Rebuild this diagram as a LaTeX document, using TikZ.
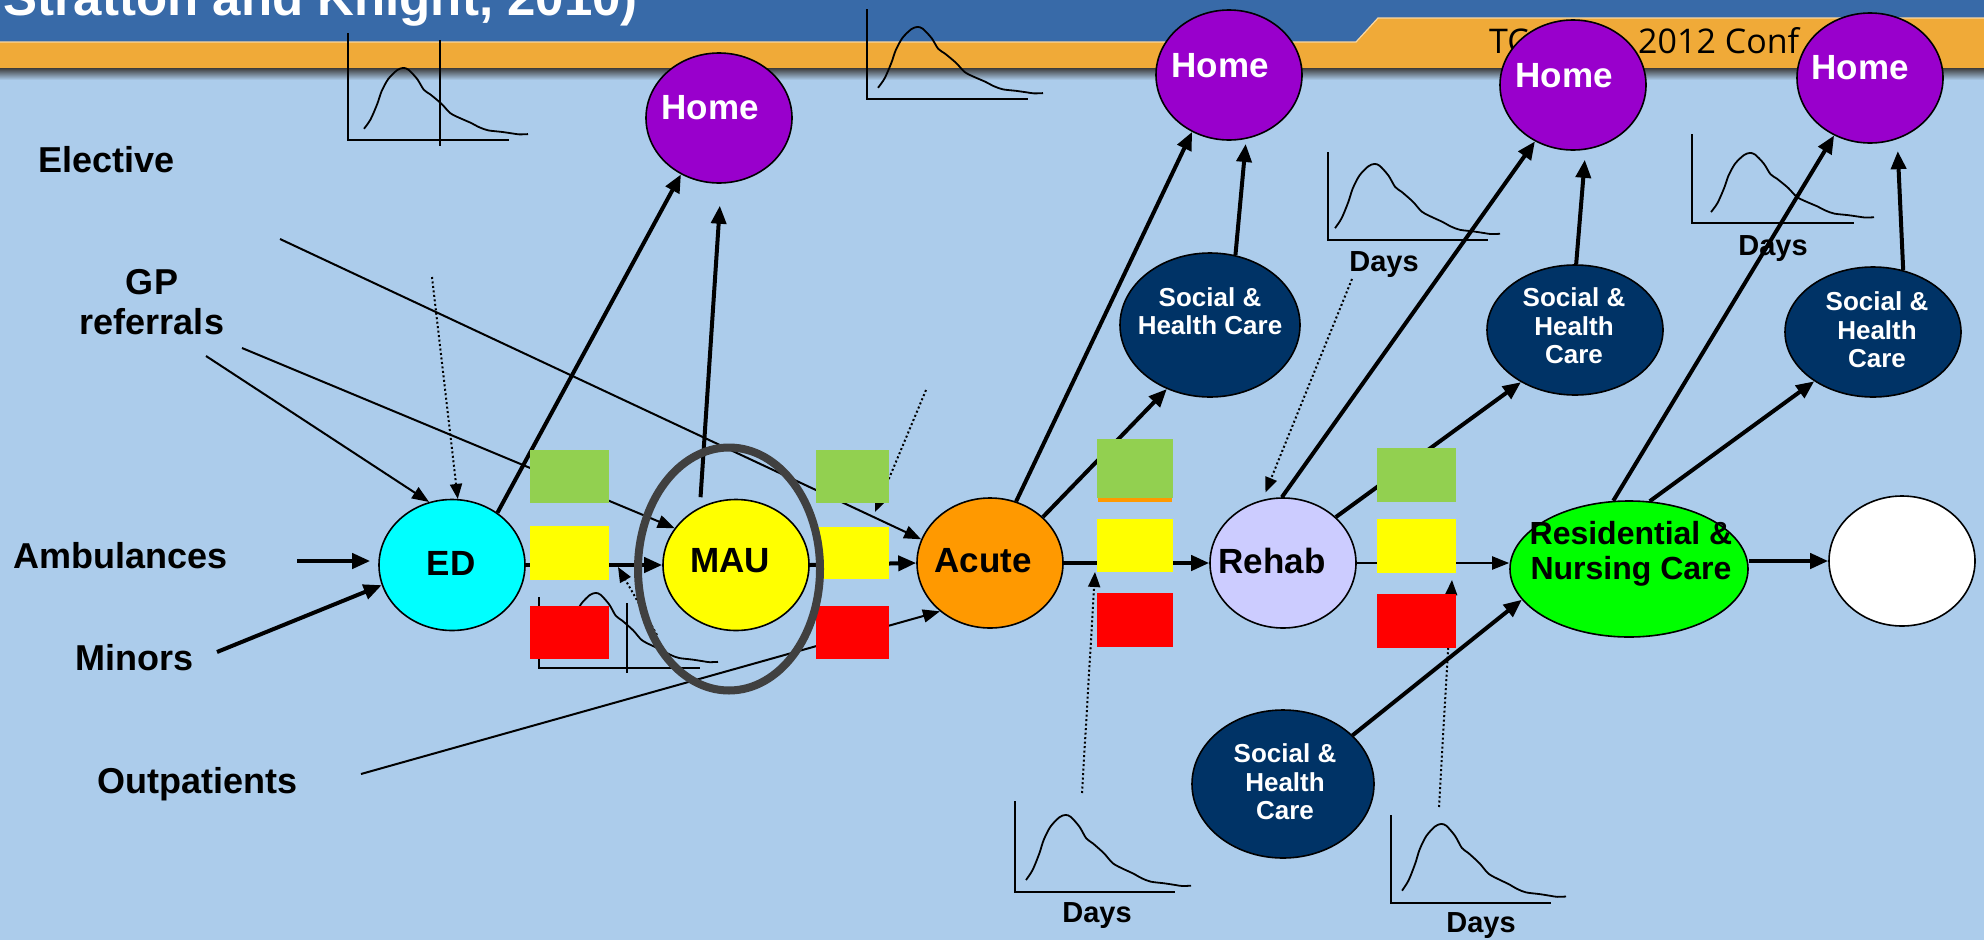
\documentclass[tikz,border=0pt]{standalone}
\usepackage{fontspec}
\setmainfont{Liberation Sans}
\newfontfamily\confont{Open Sans}
\usetikzlibrary{arrows.meta,shapes.geometric,calc}

\definecolor{bgblue}{RGB}{172,204,235}
\definecolor{bandblue}{RGB}{56,106,168}
\definecolor{bandorange}{RGB}{240,170,56}
\definecolor{bandedge}{RGB}{250,215,160}
\definecolor{bandshadow}{RGB}{60,60,60}
\definecolor{homepurple}{RGB}{153,0,204}
\definecolor{navy}{RGB}{0,51,102}
\definecolor{edcyan}{RGB}{0,255,255}
\definecolor{acuteorange}{RGB}{255,153,0}
\definecolor{rehablilac}{RGB}{204,204,255}
\definecolor{residgreen}{RGB}{0,255,0}
\definecolor{sqgreen}{RGB}{146,208,80}
\definecolor{sqyellow}{RGB}{255,255,0}
\definecolor{sqred}{RGB}{255,0,0}
\definecolor{ringgray}{RGB}{64,64,64}

% length-of-stay sketch: axis x, axis top, axis y, axis right end,
% curve start x, curve end x, curve peak y
\newcommand{\losplot}[7]{%
  \draw[axisline] (#1,#2) -- (#1,#3) -- (#4,#3);
  \begin{scope}[shift={(#5,#3)}, xscale=#6-#5, yscale=#7-#3]
    \draw[curveline] plot[smooth, tension=0.5] coordinates {
      (0,0.156) (0.040,0.286) (0.081,0.502) (0.107,0.675) (0.148,0.848)
      (0.202,0.970) (0.238,1.0) (0.270,0.978) (0.324,0.848) (0.365,0.697)
      (0.405,0.632) (0.473,0.502) (0.527,0.372) (0.595,0.294) (0.648,0.242)
      (0.703,0.177) (0.757,0.134) (0.838,0.113) (0.905,0.091) (0.946,0.078)
      (1.0,0.082)};
  \end{scope}}

\begin{document}
\begin{tikzpicture}[x=1pt, y=-1pt,
  stage/.style={ellipse, draw=black, line width=1.6pt, inner sep=0pt,
    minimum width=146pt, minimum height=131pt},
  home/.style={stage, fill=homepurple, minimum height=130pt},
  care/.style={stage, fill=navy, minimum width=176pt, minimum height=130pt},
  hometxt/.style={inner sep=0pt, text=white, font=\bfseries\fontsize{35}{38}\selectfont},
  stagetxt/.style={inner sep=0pt, text=black, font=\bfseries\fontsize{35}{38}\selectfont},
  caretxt/.style={inner sep=0pt, text=white, align=center,
    font=\bfseries\fontsize{26}{28.5}\selectfont},
  src/.style={inner sep=0pt, anchor=base west, font=\bfseries\fontsize{36}{40}\selectfont},
  dayslabel/.style={inner sep=0pt, anchor=base, font=\bfseries\fontsize{29}{32}\selectfont},
  sq/.style={inner sep=0pt, draw=none, minimum width=78pt, minimum height=54pt},
  heavy/.style={line width=4pt, -{Triangle[length=18pt,width=15pt]}},
  light/.style={line width=2pt, -{Triangle[length=17pt,width=13pt]}},
  dotty/.style={line width=2pt, dash pattern=on 2pt off 2.5pt,
    -{Triangle[length=15pt,width=12pt]}},
  axisline/.style={line width=2.4pt},
  curveline/.style={line width=1.8pt, line join=round},
]
\useasboundingbox (0,0) rectangle (1984,940);
\fill[bgblue] (0,0) rectangle (1984,940);

% title band
\fill[bandblue] (0,0) rectangle (1984,44);
\fill[bandorange] (0,42) -- (1356,42) -- (1378,18) -- (1984,18) -- (1984,68) -- (0,68) -- cycle;
\draw[bandedge, line width=1.2pt] (0,42) -- (1356,42) -- (1378,18) -- (1984,18);
\shade[top color=bandshadow, bottom color=bgblue] (0,68) rectangle (1984,80);

\node[anchor=base east, inner sep=0pt, text=white,
  font=\bfseries\fontsize{51}{56}\selectfont] (title) at (638,15) {Stratton and Knight, 2010)};
\node[anchor=base west, inner sep=0pt, font=\confont\fontsize{34}{38}\selectfont]
  (conf-a) at (1489,53) {TC};
\node[anchor=base west, inner sep=0pt, font=\confont\fontsize{34}{38}\selectfont]
  (conf-b) at (1638,53) {2012 Conf};

% length-of-stay sketches
\losplot{348}{33}{140}{509}{364}{528}{68}
\draw[line width=2pt] (440,40) -- (440,146);
\losplot{867}{9}{99}{1028}{878}{1043}{27}
\losplot{1328}{152}{240}{1488}{1335}{1500}{164}
\losplot{1692}{134}{223}{1854}{1711}{1874}{153}
\losplot{1015}{801}{892}{1175}{1026}{1191}{815}
\losplot{1391}{815}{903}{1551}{1402}{1566}{824}
\losplot{539}{597}{668}{700}{557}{718}{593}
\draw[line width=2pt] (627,603) -- (627,673);

\node[dayslabel] (days1) at (1384,271) {Days};
\node[dayslabel] (days2) at (1773,255) {Days};
\node[dayslabel] (days3) at (1097,922) {Days};
\node[dayslabel] (days4) at (1481,932) {Days};

% sources
\node[src] (elective) at (38,172) {Elective};
\node[inner sep=0pt, align=center, font=\bfseries\fontsize{36}{40}\selectfont]
  (gp) at (152,302) {GP\\referrals};
\node[src] (ambulances) at (13,568) {Ambulances};
\node[src] (minors) at (75,670) {Minors};
\node[src] (outpatients) at (97,793) {Outpatients};

% stages of the pathway
\node[stage, fill=edcyan] (ed) at (452,565) {};
\node[stage, fill=sqyellow] (mau) at (736,565) {};
\node[stage, fill=acuteorange, minimum height=130pt] (acute) at (990,563) {};
\node[stage, fill=rehablilac, minimum height=130pt] (rehab) at (1283,563) {};
\node[stage, fill=residgreen, minimum width=238pt, minimum height=136pt] (resid) at (1629,569) {};
\node[stage, fill=white, minimum height=130pt] (sink) at (1902,561) {};
\node[home] (home1) at (719,118) {};
\node[home] (home2) at (1229,75) {};
\node[home] (home3) at (1573,85) {};
\node[home] (home4) at (1870,78) {};
\node[care, minimum width=180pt, minimum height=144pt] (shc1) at (1210,325) {};
\node[care] (shc2) at (1575,330) {};
\node[care] (shc3) at (1873,332) {};
\node[care, minimum width=182pt, minimum height=148pt] (shc4) at (1283,784) {};

\node[stagetxt] (ed-t) at ($(ed)+(-1,-2)$) {ED};
\node[stagetxt] (mau-t) at ($(mau)+(-6,-4)$) {MAU};
\node[stagetxt] (acute-t) at ($(acute)+(-7,-2)$) {Acute};
\node[stagetxt] (rehab-t) at ($(rehab)+(-11,-2)$) {Rehab};
\node[inner sep=0pt, align=center, font=\bfseries\fontsize{32}{35}\selectfont]
  (resid-t) at ($(resid)+(2,-15)$) {Residential \&\\Nursing Care};
\node[hometxt] (home1-t) at ($(home1)+(-9,-10)$) {Home};
\node[hometxt] (home2-t) at ($(home2)+(-9,-9)$) {Home};
\node[hometxt] (home3-t) at ($(home3)+(-9,-9)$) {Home};
\node[hometxt] (home4-t) at ($(home4)+(-10,-10)$) {Home};
\node[caretxt] (shc1-t) at ($(shc1)+(0,-14)$) {Social \&\\Health Care};
\node[caretxt] (shc2-t) at ($(shc2)+(-1,-4)$) {Social \&\\Health\\Care};
\node[caretxt] (shc3-t) at ($(shc3)+(4,-2)$) {Social \&\\Health\\Care};
\node[caretxt] (shc4-t) at ($(shc4)+(2,-2)$) {Social \&\\Health\\Care};

% free ends of connectors
\coordinate (elective-src) at (280,239);
\coordinate (gp-src1) at (206,356);
\coordinate (gp-src2) at (242,348);
\coordinate (amb-src) at (297,561);
\coordinate (minor-src) at (217,652);
\coordinate (outp-src) at (361,774);
\coordinate (dot1-src) at (432,277);
\coordinate (dot2-src) at (657,635);
\coordinate (dot2-end) at (618,567);
\coordinate (dot3-src) at (926,390);
\coordinate (dot3-end) at (875,512);
\coordinate (dot4-src) at (1082,793);
\coordinate (dot4-end) at (1095,572);
\coordinate (dot5-src) at (1439,807);
\coordinate (dot5-end) at (1452,580);
\coordinate (dot6-src) at (1352,279);

% inflows
\draw[heavy, shorten >=8pt] (amb-src) -- (amb-src -| ed.west);
\draw[heavy] (minor-src) -- (ed.196);
\draw[light] (elective-src) -- (acute.161);
\draw[light] (gp-src1) -- (ed.110);
\draw[light] (gp-src2) -- (mau.149);
\draw[light] (outp-src) -- (acute.224);

% main pathway
\draw[heavy] (ed.east) -- (mau.west);
\draw[heavy] (mau.east) -- (acute.west);
\draw[heavy] (acute.east) -- (rehab.west);
\draw[light] (rehab.east) -- (rehab.east -| resid.west);
\draw[heavy] (sink.west -| resid.east) -- (sink.west);

% discharges
\draw[heavy] (ed.49) -- (home1.236);
\draw[heavy, shorten <=10pt, shorten >=22pt] (mau.122) -- (home1.272);
\draw[heavy] (acute.67) -- (home2.237);
\draw[heavy] (acute.41) -- (shc1.236);
\draw[heavy, shorten >=5pt] (shc1.70) -- (home2.285);
\draw[heavy] (rehab.91) -- (home3.236);
\draw[heavy] (rehab.41) -- (shc2.224);
\draw[heavy, shorten >=10pt] (shc2.89) -- (home3.281);
\draw[heavy] (resid.103) -- (home4.238);
\draw[heavy] (resid.73) -- (shc3.220);
\draw[heavy, shorten >=12pt] (shc3.64) -- (home4.294);
\draw[heavy] (shc4.35) -- (resid.196);

% links from the sketches
\draw[dotty] (dot1-src) -- (ed.85);
\draw[dotty] (dot2-src) -- (dot2-end);
\draw[dotty] (dot3-src) -- (dot3-end);
\draw[dotty] (dot4-src) -- (dot4-end);
\draw[dotty] (dot5-src) -- (dot5-end);
\draw[dotty, shorten >=8pt] (dot6-src) -- (rehab.108);

% traffic-light queues
\node[sq, fill=sqgreen, minimum width=79pt, minimum height=53pt] (qa-g) at (569.5,476.5) {};
\node[sq, fill=sqyellow, minimum width=79pt, minimum height=54pt] (qa-y) at (569.5,553) {};
\node[sq, fill=sqred, minimum width=79pt, minimum height=53pt] (qa-r) at (569.5,632.5) {};
\node[sq, fill=sqgreen, minimum width=73pt, minimum height=53pt] (qb-g) at (852.5,476.5) {};
\node[sq, fill=sqyellow, minimum width=73pt, minimum height=52pt] (qb-y) at (852.5,553) {};
\node[sq, fill=sqred, minimum width=73pt, minimum height=53pt] (qb-r) at (852.5,632.5) {};
\node[sq, fill=sqgreen, minimum width=76pt, minimum height=59pt] (qc-g) at (1135,468.5) {};
\fill[acuteorange] (1098,498) rectangle (1172,502);
\node[sq, fill=sqyellow, minimum width=76pt, minimum height=53pt] (qc-y) at (1135,545.5) {};
\node[sq, fill=sqred, minimum width=76pt, minimum height=54pt] (qc-r) at (1135,620) {};
\node[sq, fill=sqgreen, minimum width=79pt, minimum height=54pt] (qd-g) at (1416.5,475) {};
\node[sq, fill=sqyellow, minimum width=79pt, minimum height=54pt] (qd-y) at (1416.5,546) {};
\node[sq, fill=sqred, minimum width=79pt, minimum height=54pt] (qd-r) at (1416.5,621) {};

% highlight round the MAU
\node[ellipse, draw=ringgray, line width=8pt, inner sep=0pt,
  minimum width=182pt, minimum height=243pt] (ring) at (729,569) {};
\end{tikzpicture}
\end{document}
